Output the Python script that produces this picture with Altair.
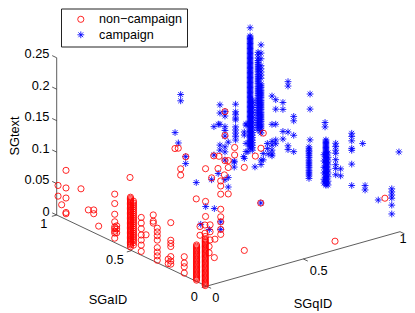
import altair as alt
import pandas as pd

# stacks of points: (SGqID, SGaID, [SGtext, ...])
CAMPAIGN = [
    (1.0, 1.0, [.211, .198, .196, .194, .192, .19, .188, .186, .184, .182, .18, .178, .176, .174, .172, .17, .168, .166, .164, .162, .16, .158, .156, .154, .152, .15, .148, .146, .144, .142, .14, .138, .136, .134, .132, .13, .128, .126, .124, .122, .12, .118, .116, .114, .112, .11, .108, .106, .104, .102, .1, .098, .096, .094, .092, .09, .088, .086, .084, .082, .08, .078, .076, .074, .072, .07, .068, .066, .064, .062, .06, .058, .056, .054, .052, .05, .048, .046, .044, .042, .04, .038, .036, .034, .032, .03, .028, .026, .024, .022, .02]),
    (1.0, .985, [.098, .094, .09, .086, .082, .078, .074, .07, .066, .062, .058, .054, .05, .046, .042, .038, .034, .03, .026, .022, .018]),
    (1.0, .947, [.178, .174, .169, .165, .162, .159, .156, .153, .15, .147, .143, .14, .137, .134, .131, .128, .124, .121, .118, .115, .112, .109, .105, .102, .099, .096, .093, .09, .086, .083, .08, .077, .073, .07, .067, .064, .061, .058, .054]),
    (1.0, .927, [.192, .179, .17, .159, .154, .149, .144, .139, .13, .127, .124, .12, .117, .114, .111, .108, .104, .101, .098, .095, .092, .089, .085, .082, .079, .076, .073, .07, .066, .063, .06, .056, .052, .009, .002]),
    (.979, 1.0, [.06, .058, .029, .016]),
    (.989, 1.0, [.015]),
    (.967, 1.0, [.009]),
    (.97, 1.0, [.048, .043, .006]),
    (.925, 1.0, [.096, .084, .08, .074, .071, .06, .055, .05, .045, .039]),
    (.918, 1.0, [.006]),
    (.887, 1.0, [.039]),
    (.87, 1.0, [.089, .082, .065, .059, .05, .033, .025, .012]),
    (.844, 1.0, [.102, .089, .071, .038, .03]),
    (.836, 1.0, [.072]),
    (.813, 1.0, [.07, .025]),
    (.641, 1.0, [.136, .126]),
    (.667, 1.0, [.035, .024]),
    (.629, 1.0, [.06]),
    (.612, 1.0, [.078]),
    (.143, 0.0, [.185, .177]),
    (.112, 0.0, [.163, .148]),
    (.095, 0.0, [.161]),
    (.06, 0.0, [.174]),
    (.073, 0.0, [.096, .084]),
    (.04, 0.0, [.12]),
    (.026, 0.0, [.167]),
    (0.0, .006, [.126]),
    (.014, 0.0, [.089]),
    (0.0, .039, [.094]),
    (0.0, .069, [.157]),
    (.25, 0.0, [.168]),
    (.28, 0.0, [.108]),
    (1.0, .912, [.021, .011]),
    (1.0, .885, [.04, .032]),
    (1.0, .879, [.024]),
    (1.0, .854, [.119, .074, .047, .041, .033, .027, .024]),
    (1.0, .829, [.116, .101, .077, .052, .046]),
    (1.0, .781, [.117, .106, .071, .059]),
    (1.0, .747, [.154, .147, .074, .052, .046]),
    (1.0, .709, [.103, .096, .073, .047]),
    (1.0, .6, [.151, .127, .078]),
    (1.0, .607, [.066, .063, .06, .058, .055, .052, .049, .045, .042, .039, .036, .033, .029, .026, .023, .02, .016]),
    (1.0, .5, [.117, .11]),
    (1.0, .494, [.09, .088, .086, .084, .082, .08, .078, .076, .074, .072, .07, .068, .066, .064, .062, .06, .058, .056, .054, .052, .05, .048, .046, .044, .042, .04, .038, .036, .034, .032, .03, .028, .026, .024, .022, .02, .018]),
    (1.0, .48, [.071, .064, .058, .052, .045, .039, .033, .026, .02]),
    (1.0, .507, [.065, .055, .045, .036, .026, .02]),
    (1.0, .429, [.092, .087, .081, .076, .066, .058, .052, .042]),
    (1.0, .396, [.055, .044]),
    (1.0, .322, [.12, .115, .108, .096, .093, .071, .037]),
    (1.0, .249, [.112]),
    (1.0, .233, [.047, .04]),
    (1.0, .145, [.034]),
    (1.0, .055, [.062, .057, .052, .047, .036, .022]),
    (1.0, .007, [.126]),
]

NON_CAMPAIGN = [
    (0.0, .938, [.078, .05, .034, .011, .009]),
    (0.0, .991, [.048, .031]),
    (0.0, .838, [.06]),
    (0.0, .967, [.02]),
    (0.0, .789, [.032]),
    (0.0, .753, [.036, .03]),
    (0.0, .72, [.014]),
    (0.0, .613, [.077, .062, .045, .033, .025, .022, .018, .015, .007]),
    (0.0, .6, [.028, .023, .017]),
    (0.0, .511, [.115]),
    (0.0, .508, [.084, .082, .08, .078, .076, .074, .072, .07, .068, .066, .064, .062, .06, .058, .056, .054, .052, .05, .048, .046, .044, .042, .04, .038, .036, .034, .032, .03, .028, .026, .024, .022, .02, .018, .016, .014, .012, .01, .008, .005]),
    (0.0, .488, [.08, .077, .074, .071, .068, .065, .062, .059, .056, .053, .05, .047, .044, .041, .038, .035, .032, .029, .026, .023, .02, .017, .014, .01]),
    (0.0, .436, [.06, .051, .042, .032, .024, .016, .006]),
    (0.0, .404, [.036]),
    (0.0, .356, [.073, .063, .06]),
    (0.0, .329, [.055, .049, .043, .036, .024, .017, .011, .004]),
    (0.0, .239, [.074, .046, .041, .036, .02, .013, .008]),
    (0.0, .256, [.014, .007]),
    (0.0, .149, [.03, .02, .014, .004]),
    (0.0, .067, [.058, .056, .054, .052, .05, .048, .046, .044, .042, .04, .038, .036, .034, .032, .03, .028, .026, .024, .022, .02, .018, .016, .014, .012, .01, .008, .006, .004, .002]),
    (0.0, .009, [.078, .074, .072, .07, .068, .066, .064, .062, .06, .058, .056, .054, .052, .05, .048, .046, .044, .042, .04, .038, .036, .034, .032, .03, .028, .026, .024, .022, .02, .018, .016, .014, .012, .01, .008, .006, .004, .002, .0]),
    (0.0, .211, [.195]),
    (0.0, .189, [.198]),
    (0.0, .139, [.19]),
    (0.0, .173, [.167, .157]),
    (0.0, .069, [.131]),
    (0.0, .007, [.186, .134, .11]),
    (0.0, .044, [.09, .076]),
    (0.0, .011, [.096, .083]),
    (.018, 0.0, [.096, .085, .072]),
    (.013, 0.0, [.062, .052]),
    (.043, 0.0, [.071]),
    (.04, 0.0, [.042]),
    (.073, 0.0, [.161, .153, .14, .116, .104, .096, .084, .076]),
    (.112, 0.0, [.137, .19, .179]),
    (.195, 0.0, [.04, .172]),
    (.28, 0.0, [.108]),
    (.664, 0.0, [.014]),
    (.922, 0.0, [.06]),
    (.037, 0.0, [.204]),
    (.064, 0.0, [.201]),
    (.145, 0.0, [.208, .196]),
    (.87, 1.0, [.089, .051, .011]),
    (.252, 0.0, [.185]),
    (.293, 0.0, [.218]),
    (.281, 0.0, [.195]),
    (.059, 0.0, [.182]),
    (.026, 0.0, [.17]),
    (.092, 0.0, [.169]),
]

NAME_RED = "non\u2212campaign"
NAME_BLUE = "campaign"
STAR = "M-1.1,0L1.1,0M0,-1.1L0,1.1M-.78,-.78L.78,.78M-.78,.78L.78,-.78"

Z_TICKS = [0, .05, .1, .15, .2, .25]
A_TICKS = [0, .5, 1]
Q_TICKS = [0, .5, 1]

# tick labels: text, SGqID, SGaID, SGtext anchor
Z_LABELS = ["0", "0.05", "0.1", "0.15", "0.2", "0.25"]
A_LABELS = [("1", -.0672, 1, -.0085), ("0.5", -.0861, .5, -.008), ("0", -.0636, 0, -.0112)]
Q_LABELS = [("0", 0, -.0607, -.0124), ("0.5", .5, -.1025, -.0071), ("1", 1, -.02, -.0094)]
TITLES = [("SGaID", -.1223, .5, -.0675, 0), ("SGqID", .5, -.0647, -.0643, 0), ("SGtext", -.2177, 1, .1445, 270)]

rows = []
for name, stacks in ((NAME_BLUE, CAMPAIGN), (NAME_RED, NON_CAMPAIGN)):
    for q, a, zs in stacks:
        for z in zs:
            rows.append({"q": q, "a": a, "z": z, "group": name})
points = pd.DataFrame(rows)

segs = [
    dict(q=0, a=1, z=0, q2=0, a2=1, z2=.25),
    dict(q=0, a=0, z=0, q2=0, a2=1, z2=0),
    dict(q=0, a=0, z=0, q2=1, a2=0, z2=0),
]
segs += [dict(q=0, a=1, z=t, q2=0, a2=1.03, z2=t) for t in Z_TICKS]
segs += [dict(q=0, a=t, z=0, q2=-.025, a2=t, z2=0) for t in A_TICKS]
segs += [dict(q=t, a=0, z=0, q2=t, a2=-.03, z2=0) for t in Q_TICKS]
segments = pd.DataFrame(segs)

labels = [dict(text=t, q=0, a=1.048, z=v) for t, v in zip(Z_LABELS, Z_TICKS)]
side = [dict(text=t, q=q, a=a, z=z) for t, q, a, z in A_LABELS + Q_LABELS]
titles = pd.DataFrame([dict(text=t, q=q, a=a, z=z, angle=r) for t, q, a, z, r in TITLES])

PX = "206.6 + 193.4*datum.{q} - 149.9*datum.{a}"
PY = "286.2 - 54.5*datum.{q} - 71.2*datum.{a} - 629*datum.{z}"
px = PX.format(q="q", a="a")
py = PY.format(q="q", a="a", z="z")
px2 = PX.format(q="q2", a="a2")
py2 = PY.format(q="q2", a="a2", z="z2")

X = alt.X("px:Q", axis=None, scale=alt.Scale(domain=[8, 407], nice=False, zero=False))
Y = alt.Y("py:Q", axis=None, scale=alt.Scale(domain=[313, 8], nice=False, zero=False))

lines = alt.Chart(segments).transform_calculate(px=px, py=py, px2=px2, py2=py2).mark_rule(
    color="#333333", strokeWidth=0.8
).encode(x=X, y=Y, x2="px2:Q", y2="py2:Q")

pts = alt.Chart(points).transform_calculate(px=px, py=py).mark_point(
    filled=False, strokeWidth=0.85, size=38, opacity=1
).encode(
    x=X, y=Y,
    color=alt.Color("group:N", scale=alt.Scale(domain=[NAME_RED, NAME_BLUE], range=["#ff0000", "#0000ff"]), legend=alt.Legend(
        title=None, orient="none", legendX=53, legendY=0.5, fillColor="white", strokeColor="#222222",
        padding=4.5, symbolOffset=9, labelFontSize=12.6, labelFont="Liberation Sans", labelColor="black",
        symbolSize=38, symbolStrokeWidth=0.85, rowPadding=2.5, labelOffset=12, labelLimit=200,
    )),
    shape=alt.Shape("group:N", scale=alt.Scale(domain=[NAME_RED, NAME_BLUE], range=["circle", STAR]), legend=None),
)

def text_layer(data, align):
    return alt.Chart(pd.DataFrame(data)).transform_calculate(px=px, py=py).mark_text(
        font="Liberation Sans", fontSize=12.8, color="black", align=align, baseline="middle"
    ).encode(x=X, y=Y, text="text:N")

z_text = text_layer(labels, "right")
side_text = text_layer(side, "center")
title_text = alt.Chart(titles).transform_calculate(px=px, py=py).mark_text(
    font="Liberation Sans", fontSize=12.8, color="black", align="center", baseline="middle"
).encode(x=X, y=Y, text="text:N", angle=alt.Angle("angle:Q", scale=None))

chart = alt.layer(lines, pts, z_text, side_text, title_text).properties(
    width=399, height=305, padding=0, autosize=alt.AutoSizeParams(type="none")
).configure_view(stroke=None)

chart.save("out.html", embed_options={"renderer": "svg", "actions": False})
